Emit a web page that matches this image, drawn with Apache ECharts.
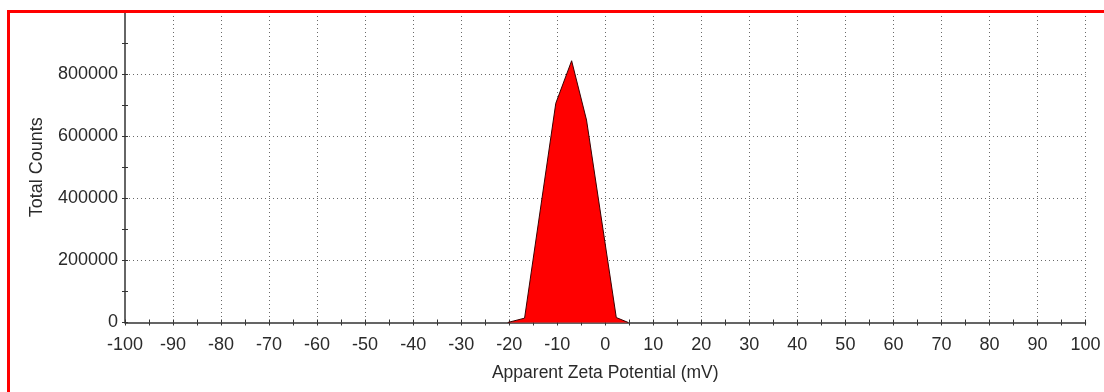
<!DOCTYPE html>
<html>
<head>
<meta charset="utf-8">
<script src="https://cdn.jsdelivr.net/npm/echarts@6/dist/echarts.min.js"></script>
<style>
  html, body { margin: 0; padding: 0; background: #fff; }
  #chart { width: 1104px; height: 392px; }
</style>
</head>
<body>
<div id="chart"></div>
<script>
// Zeta potential distribution (mV) and total counts
const zeta   = [-20.3, -16.8, -10.3, -7.0, -3.9, 2.3, 4.8];
const counts = [0, 14000, 706000, 843000, 652000, 16000, 0];

const xMin = -100, xMax = 100, xStep = 10;
const yMin = 0, yMax = 1000000, yStep = 200000;

const FONT = "'Liberation Sans', Arial, sans-serif";
const TEXT = '#2a2a2a';
const AXIS = '#333';

const chart = echarts.init(document.getElementById('chart'), null, { renderer: 'canvas' });

const grid = { left: 125, right: 18.5, top: 12, bottom: 69.5 };

const dotted = { color: '#6a6a6a', width: 1, type: [1, 3] };
const plain = v => String(v);

chart.setOption({
  animation: false,
  backgroundColor: '#fff',
  grid: grid,
  xAxis: [
    {
      type: 'value', min: xMin, max: xMax, interval: xStep,
      name: 'Apparent Zeta Potential (mV)', nameLocation: 'middle', nameGap: 42,
      nameTextStyle: { fontFamily: FONT, fontSize: 17.5, color: TEXT },
      axisLine: { onZero: false, lineStyle: { color: AXIS, width: 1.5 } },
      axisTick: { inside: false, length: 3, lineStyle: { color: AXIS } },
      minorTick: { show: true, splitNumber: 2, length: 3, lineStyle: { color: AXIS } },
      axisLabel: { fontFamily: FONT, fontSize: 18, color: TEXT, margin: 14, formatter: plain },
      splitLine: { show: true, showMinLine: false, lineStyle: dotted }
    },
    {
      type: 'value', min: xMin, max: xMax, interval: xStep, position: 'bottom',
      axisLine: { show: false, onZero: false },
      axisTick: { inside: true, length: 3, lineStyle: { color: AXIS } },
      minorTick: { show: true, splitNumber: 2, length: 3, lineStyle: { color: AXIS } },
      axisLabel: { show: false },
      splitLine: { show: false }
    }
  ],
  yAxis: [
    {
      type: 'value', min: yMin, max: yMax, interval: yStep,
      name: 'Total Counts', nameLocation: 'middle', nameGap: 79,
      nameTextStyle: { fontFamily: FONT, fontSize: 18, color: TEXT },
      axisLine: { show: true, onZero: false, lineStyle: { color: AXIS, width: 1.5 } },
      axisTick: { show: true, inside: false, length: 3, lineStyle: { color: AXIS } },
      minorTick: { show: true, splitNumber: 2, length: 3, lineStyle: { color: AXIS } },
      axisLabel: { fontFamily: FONT, fontSize: 18, color: TEXT, margin: 7, showMaxLabel: false, formatter: plain },
      splitLine: { show: true, showMinLine: false, showMaxLine: false, lineStyle: dotted }
    },
    {
      type: 'value', min: yMin, max: yMax, interval: yStep, position: 'left',
      axisLine: { show: false, onZero: false },
      axisTick: { show: true, inside: true, length: 3, lineStyle: { color: AXIS } },
      minorTick: { show: true, splitNumber: 2, length: 3, lineStyle: { color: AXIS } },
      axisLabel: { show: false },
      splitLine: { show: false }
    }
  ],
  series: [{
    type: 'line',
    xAxisIndex: 0, yAxisIndex: 0,
    data: zeta.map((z, i) => [z, counts[i]]),
    showSymbol: false,
    lineStyle: { color: '#3a0000', width: 1 },
    areaStyle: { color: '#ff0000', opacity: 1 },
    z: 3
  }],
  graphic: [{
    type: 'polyline',
    z: 100,
    shape: { points: [[8.5, 392], [8.5, 11.5], [1104, 11.5]] },
    style: { stroke: '#ff0000', lineWidth: 3, fill: null }
  }]
});
</script>
</body>
</html>
